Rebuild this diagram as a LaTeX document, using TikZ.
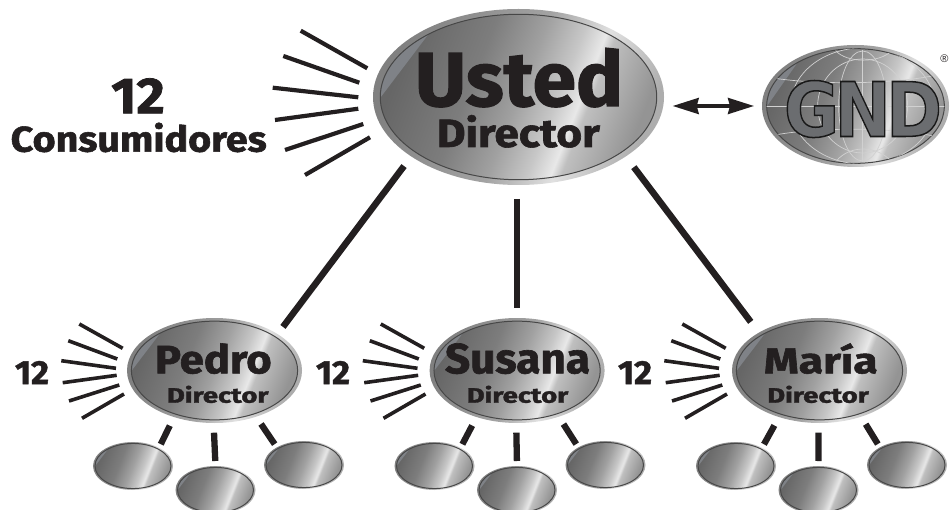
\documentclass[tikz,border=0pt]{standalone}
\usepackage{fontspec}
\usepackage{graphicx}
\usetikzlibrary{shapes.geometric,arrows.meta}
\newfontfamily\blkf[BoldFeatures={FakeBold=1.5}]{Fira Sans}
\newcommand\blk{\blkf\bfseries}
\newfontfamily\gndf{DejaVu Sans}
\newfontfamily\regf{Liberation Sans}
\definecolor{ink}{HTML}{231F20}
\definecolor{wedgec}{HTML}{7F8287}
\definecolor{gndgrey}{HTML}{6B6D70}
\pgfdeclarehorizontalshading{metalface}{100bp}{rgb(0bp)=(.40,.40,.40); rgb(25bp)=(.40,.40,.40); rgb(40bp)=(.49,.49,.49); rgb(50bp)=(.63,.63,.63); rgb(57.5bp)=(.78,.78,.78); rgb(62bp)=(.91,.91,.91); rgb(64bp)=(.75,.75,.75); rgb(75bp)=(.58,.58,.58); rgb(100bp)=(.58,.58,.58)}
\pgfdeclarehorizontalshading{metalrim}{100bp}{rgb(0bp)=(.5,.5,.5); rgb(25bp)=(.5,.5,.5); rgb(50bp)=(.64,.64,.64); rgb(62bp)=(.88,.88,.88); rgb(75bp)=(.68,.68,.68); rgb(100bp)=(.68,.68,.68)}
\tikzset{
  rimnode/.style={ellipse,inner sep=0pt,outer sep=0pt,shading=metalrim,shading angle=-21.5},
  faceshade/.style={shading=metalface,shading angle=-21.5},
  wedgefill/.style={fill=wedgec},
  faceedge/.style={draw=black!72,line width=1pt},
  lab/.style={anchor=base,inner sep=0pt,outer sep=0pt,text=ink},
  bigline/.style={draw=ink,line width=6.5pt},
  tickline/.style={draw=ink,line width=6.3pt},
  bigray/.style={draw=ink,line width=4.2pt},
  smallray/.style={draw=ink,line width=3.6pt},
  globe/.style={draw=white!82!black,line width=.7pt},
}
% name, x, y, rx, ry
\newcommand\metalnode[5]{%
  \pgfmathsetmacro\irx{#4*.95}\pgfmathsetmacro\iry{#5*.94}%
  \node[rimnode,minimum width=2*#4 pt,minimum height=2*#5 pt] (#1) at (#2,#3) {};
  \begin{scope}
    \clip (#2,#3) ellipse [x radius=\irx pt,y radius=\iry pt];
    \shade[faceshade] (#2,#3) ellipse [x radius=\irx pt,y radius=\iry pt];
    \fill[wedgefill] ({#2-1.05*\irx},{#3+.12*\iry}) -- ({#2-.66*\irx},{#3-.74*\iry}) -- ({#2-.5*\irx},{#3-1.05*\iry}) -- ({#2-1.1*\irx},{#3-1.05*\iry}) -- cycle;
  \end{scope}
  \draw[faceedge] (#2,#3) ellipse [x radius=\irx pt,y radius=\iry pt];
}
% name, x, y, width, height, text
\newcommand\lbl[6]{\node[lab] (#1) at (#2,#3) {\resizebox{#4pt}{#5pt}{\blk #6}};}
% prefix, xshift for ellipse, xshift for rays and small ones, title, title cx, title width, dir cx, count cx
\newcommand\branch[8]{%
  \metalnode{#1}{#2+214.5}{370.5}{87.5}{52.5}
  \metalnode{#1a}{#3+133}{466}{40}{24}
  \metalnode{#1b}{#3+215.5}{490}{40}{24}
  \metalnode{#1c}{#3+304}{465}{40}{24}
  \foreach \i/\ax/\ay/\bx/\by in {1/79.3/324/122.7/348.3,2/68.3/340.7/117.3/359,3/61.3/360.7/116/368.3,4/62.7/382.7/116.7/375.3,5/69/401/119.3/385,6/82/418.3/124/394}{
    \coordinate (#1rA\i) at (#3+\ax,\ay);
    \coordinate (#1rB\i) at (#3+\bx,\by);
    \draw[smallray] (#1rA\i) -- (#1rB\i);
  }
  \draw[tickline,shorten <=9.6pt,shorten >=4pt] (#1.229.2) -- (#1a.35);
  \draw[tickline,shorten <=9.7pt,shorten >=5pt] (#1.269) -- (#1b.90);
  \draw[tickline,shorten <=8.8pt,shorten >=3.9pt] (#1.312.7) -- (#1c.147.8);
  \lbl{#1title}{#5}{373.3}{#6}{30}{#4}
  \lbl{#1dir}{#7}{402.7}{101.5}{17}{Director}
  \lbl{#1num}{#8}{384}{34}{23}{12}
}
\begin{document}
\begin{tikzpicture}[x=1pt,y=-1pt]
\useasboundingbox (0,0) rectangle (952,510);
% top node
\metalnode{usted}{518.5}{97}{145.5}{88}
\lbl{ustedT}{519}{106}{208}{58}{Usted}
\lbl{ustedD}{518.3}{147}{163}{32}{Director}
\foreach \i/\ax/\ay/\bx/\by in {1/300.7/30.7/367.3/68.3,2/283.3/56/359.3/82.7,3/272.7/87.7/358.3/97.3,4/275/120/358.3/108.7,5/285/150/363.3/124,6/305/175/370/137.3}{
  \coordinate (urA\i) at (\ax,\ay);
  \coordinate (urB\i) at (\bx,\by);
  \draw[bigray] (urA\i) -- (urB\i);
}
\lbl{num}{138}{113.3}{53.5}{35}{12}
\lbl{cons}{138.7}{151.7}{256}{29}{Consumidores}
% logo
\metalnode{gnd}{855.5}{106}{93.5}{61}
\begin{scope}
  \clip (855.5,106) ellipse [x radius=88.8pt,y radius=57.3pt];
  \begin{scope}[shift={(660,30)},x=.3333pt,y=-.3333pt]
    \draw[globe] (527,62) .. controls (560,100) and (660,100) .. (695,62);
    \draw[globe] (530,392) .. controls (570,345) and (650,345) .. (695,395);
    \draw[globe] (608,228) ellipse [x radius=45pt,y radius=47pt];
    \draw[globe] (608,228) ellipse [x radius=24pt,y radius=55pt];
    \draw[globe] (608,228) ellipse [x radius=72pt,y radius=58pt];
    \draw[globe] (608,60) -- (608,395);
    \draw[globe] (310,228) -- (870,228);
    \draw[globe] (345,145) .. controls (480,165) and (740,165) .. (870,125);
    \draw[globe] (345,315) .. controls (480,290) and (740,290) .. (870,330);
  \end{scope}
\end{scope}
\node[lab] (gndT) at (863,136.5) {\resizebox{158pt}{56pt}{\color{gndgrey}\special{pdf:code 2 Tr 0.2 w 0.1 0.1 0.1 RG}\gndf\bfseries G\kern-.07em N\kern-.07em D\special{pdf:code 0 Tr}}};
\node[inner sep=0pt,text=ink,font=\regf\fontsize{11}{11}\selectfont] (reg) at (944.3,58.3) {®};
% arrow between
\draw[ink,line width=3.3pt,{Stealth[length=26pt,width=16pt,inset=2pt]}-{Stealth[length=26pt,width=16pt,inset=2pt]},shorten <=8.7pt,shorten >=8pt] (usted.east |- gnd.west) -- (gnd.west);
% branches
\branch{pedro}{0}{0}{Pedro}{213.3}{116.7}{217.7}{32}
\branch{susana}{302.6}{301.5}{Susana}{517.5}{145}{517.5}{333}
\branch{maria}{605}{603}{María}{820.8}{113.7}{818}{635}
% main lines
\draw[bigline,shorten <=12pt,shorten >=9pt] (usted.209) -- (pedro.30);
\draw[bigline,shorten <=14pt,shorten >=10pt] (usted.south -| susana.north) -- (susana.north);
\draw[bigline,shorten <=13.4pt,shorten >=13.5pt] (usted.331.1) -- (maria.148.5);
\end{tikzpicture}
\end{document}
